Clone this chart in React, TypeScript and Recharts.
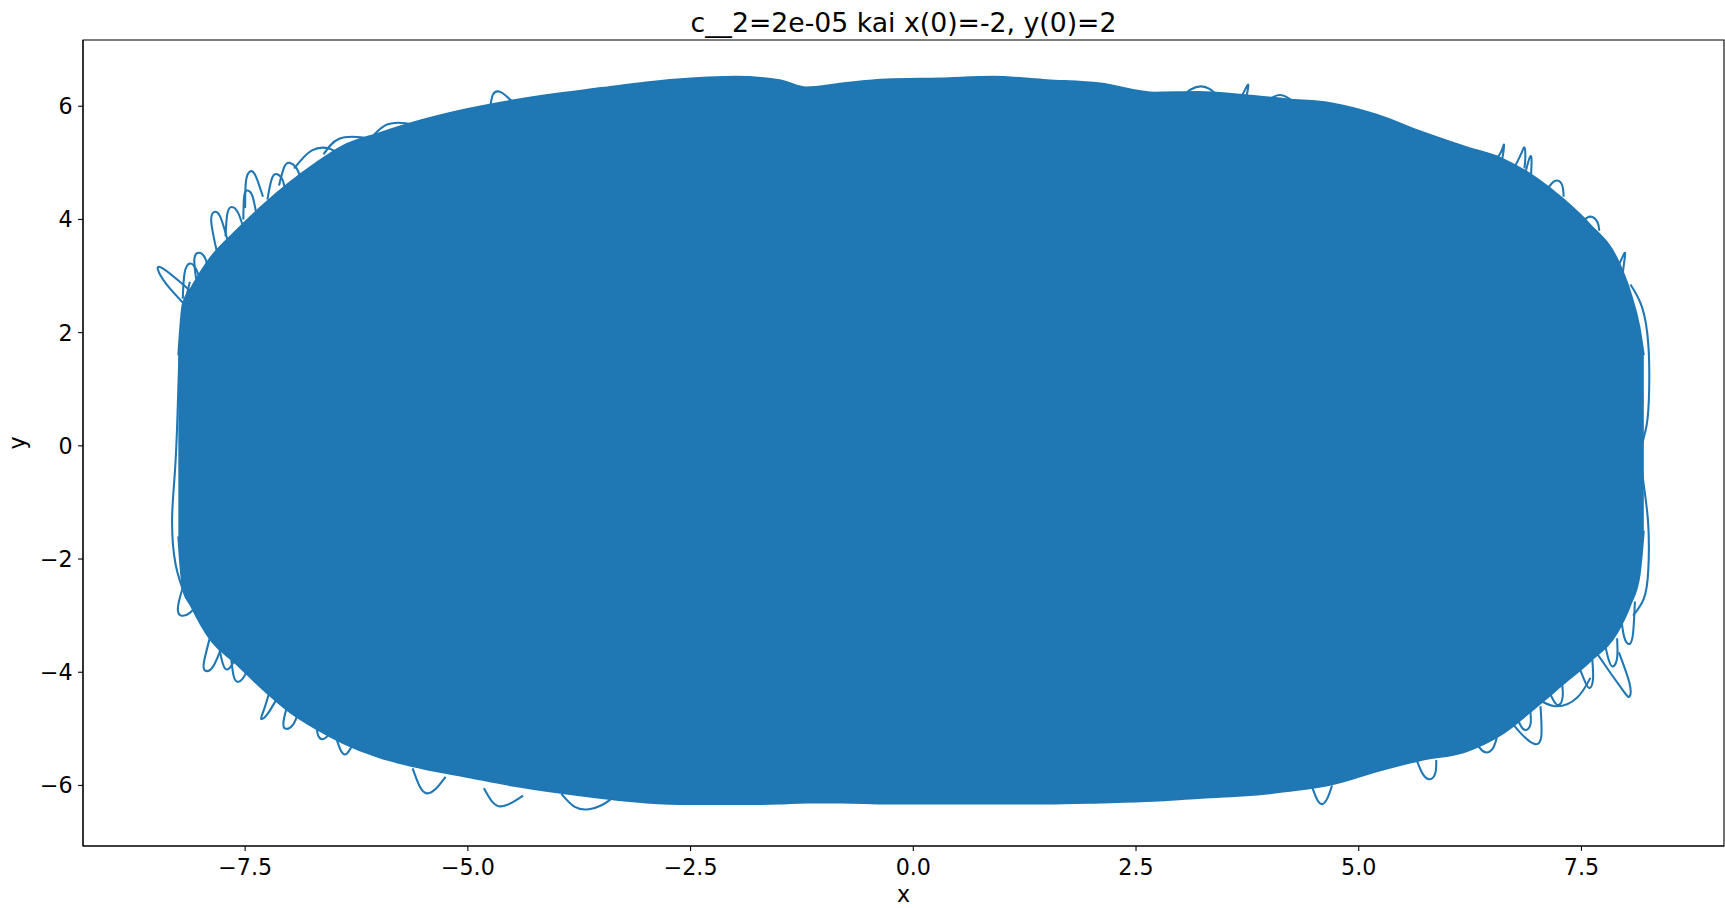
import React from 'react';
import { ComposedChart, Area, Line, XAxis, YAxis, ReferenceArea } from 'recharts';

const BLUE = '#1f77b4';
const TITLE = 'c__2=2e-05 kai x(0)=-2, y(0)=2';

// Axis ranges and ticks
const xDomain: [number, number] = [-9.32, 9.1];
const yDomain: [number, number] = [-7.07, 7.17];
const xTicks = [-7.5, -5, -2.5, 0, 2.5, 5, 7.5];
const yTicks = [-6, -4, -2, 0, 2, 4, 6];

// Outline of the densely covered core of the orbit: for each x, lowest and highest y
const envX = [
  -8.25, -8.2, -8.1, -7.9, -7.6, -7.3, -7.0, -6.7, -6.4, -6.0, -5.5, -5.0, -4.5, -4.0, -3.5,
  -3.0, -2.5, -2.0, -1.5, -1.2, -0.8, -0.3, 0.3, 0.9, 1.5, 2.1, 2.7, 3.2, 3.7, 4.2, 4.7, 5.2,
  5.7, 6.2, 6.6, 7.0, 7.3, 7.6, 7.9, 8.05, 8.15, 8.2,
];
const envLow = [
  -1.6, -2.5, -2.85, -3.4, -3.85, -4.3, -4.7, -5.0, -5.25, -5.5, -5.7, -5.85, -6.0, -6.12, -6.22,
  -6.3, -6.33, -6.33, -6.32, -6.3, -6.3, -6.32, -6.32, -6.32, -6.32, -6.3, -6.27, -6.22, -6.18, -6.1, -5.98, -5.75,
  -5.55, -5.4, -5.1, -4.6, -4.2, -3.8, -3.3, -2.8, -2.3, -1.5,
];
const envHigh = [
  1.6, 2.5, 2.8, 3.3, 3.8, 4.25, 4.65, 5.0, 5.3, 5.52, 5.76, 5.95, 6.1, 6.22, 6.32,
  6.42, 6.49, 6.52, 6.46, 6.33, 6.4, 6.47, 6.49, 6.52, 6.46, 6.4, 6.24, 6.25, 6.2, 6.12, 6.05, 5.85,
  5.55, 5.28, 5.08, 4.72, 4.35, 3.9, 3.3, 2.7, 2.1, 1.6,
];

type Pt = [number, number];

// Loops of the orbit reaching past the core, upper left
const loopsUpperLeft: Pt[][] = [
  [[-8.15, 2.45], [-8.38, 2.85], [-8.48, 3.12], [-8.42, 3.13], [-8.22, 2.88], [-8.05, 2.65]],
  [[-8.05, 2.95], [-8.07, 3.3], [-8.02, 3.41], [-7.95, 3.32], [-7.9, 3.05]],
  [[-8.2, 2.6], [-8.18, 3.05], [-8.12, 3.22], [-8.05, 3.12], [-8.0, 2.9]],
  [[-7.82, 3.45], [-7.88, 3.95], [-7.85, 4.13], [-7.78, 4.05], [-7.7, 3.65]],
  [[-7.72, 3.7], [-7.7, 4.1], [-7.65, 4.22], [-7.58, 4.12], [-7.52, 3.85]],
  [[-7.52, 4.0], [-7.51, 4.42], [-7.47, 4.51], [-7.42, 4.42], [-7.38, 4.15]],
  [[-7.5, 4.2], [-7.49, 4.68], [-7.44, 4.85], [-7.38, 4.76], [-7.3, 4.4]],
  [[-7.25, 4.35], [-7.2, 4.72], [-7.14, 4.8], [-7.08, 4.7], [-7.05, 4.5]],
  [[-7.12, 4.6], [-7.06, 4.93], [-7.0, 5.0], [-6.93, 4.92], [-6.88, 4.75]],
  [[-6.95, 4.9], [-6.75, 5.22], [-6.55, 5.25], [-6.45, 5.15]],
  [[-6.62, 5.15], [-6.45, 5.42], [-6.2, 5.45], [-6.05, 5.4]],
  [[-6.05, 5.5], [-5.9, 5.68], [-5.7, 5.7], [-5.55, 5.65]],
  [[-4.75, 5.95], [-4.72, 6.2], [-4.65, 6.26], [-4.57, 6.18], [-4.48, 6.05]],
];

// Upper right
const loopsUpperRight: Pt[][] = [
  [[3.02, 6.18], [3.12, 6.3], [3.23, 6.35], [3.33, 6.3], [3.4, 6.2]],
  [[3.66, 6.1], [3.72, 6.28], [3.76, 6.38], [3.75, 6.25], [3.73, 6.1]],
  [[3.95, 6.05], [4.05, 6.17], [4.15, 6.19], [4.25, 6.1]],
  [[6.52, 5.0], [6.6, 5.2], [6.63, 5.32], [6.62, 5.15], [6.6, 5.0]],
  [[6.74, 4.9], [6.82, 5.15], [6.86, 5.27], [6.87, 5.1], [6.86, 4.9]],
  [[6.86, 4.75], [6.9, 5.0], [6.93, 5.12], [6.94, 5.0], [6.93, 4.7]],
  [[7.1, 4.5], [7.2, 4.68], [7.28, 4.62], [7.3, 4.4]],
  [[7.5, 3.95], [7.6, 4.05], [7.68, 3.95], [7.7, 3.8]],
  [[7.88, 3.05], [7.95, 3.3], [7.99, 3.41], [7.98, 3.25], [7.96, 3.0]],
];

// Outermost swings on the left and right flanks
const flankLeft: Pt[] = [
  [-8.12, 2.9], [-8.2, 2.3], [-8.24, 1.5], [-8.26, 0.5], [-8.29, -0.5], [-8.32, -1.3], [-8.28, -2.1], [-8.16, -2.7],
];
const flankRight: Pt[] = [
  [8.05, 2.85], [8.18, 2.45], [8.25, 1.8], [8.26, 1.0], [8.23, 0.35], [8.17, -0.1], [8.2, -0.7], [8.25, -1.4],
  [8.25, -2.2], [8.2, -2.7], [8.08, -3.0],
];

// Lower right
const loopsLowerRight: Pt[][] = [
  [[8.1, -2.75], [8.08, -3.3], [8.04, -3.5], [7.98, -3.38], [7.94, -2.95]],
  [[7.6, -3.5], [7.82, -4.0], [7.98, -4.35], [8.04, -4.43], [8.04, -4.2], [7.92, -3.65]],
  [[7.75, -3.4], [7.8, -3.75], [7.85, -3.9], [7.9, -3.75], [7.9, -3.4]],
  [[7.42, -3.7], [7.53, -4.13], [7.59, -4.28], [7.63, -4.12], [7.62, -3.75]],
  [[7.05, -4.05], [7.17, -4.45], [7.24, -4.58], [7.29, -4.42], [7.27, -4.05]],
  [[6.95, -4.4], [7.2, -4.6], [7.45, -4.45], [7.6, -4.1]],
  [[6.6, -4.65], [6.82, -5.08], [6.98, -5.27], [7.05, -5.12], [7.04, -4.6]],
  [[6.75, -4.7], [6.82, -4.95], [6.88, -5.02], [6.93, -4.9], [6.92, -4.6]],
  [[6.3, -5.2], [6.4, -5.4], [6.5, -5.36], [6.55, -5.15]],
  [[5.65, -5.55], [5.72, -5.8], [5.8, -5.89], [5.86, -5.78], [5.87, -5.55]],
  [[4.47, -6.0], [4.53, -6.24], [4.59, -6.33], [4.65, -6.22], [4.7, -6.0]],
];

// Lower left
const loopsLowerLeft: Pt[][] = [
  [[-8.18, -2.4], [-8.25, -2.8], [-8.23, -2.99], [-8.12, -2.95], [-8.02, -2.75]],
  [[-7.88, -3.3], [-7.96, -3.8], [-7.95, -3.97], [-7.86, -3.9], [-7.75, -3.5]],
  [[-7.66, -3.7], [-7.63, -4.06], [-7.58, -4.17], [-7.51, -4.07], [-7.45, -3.85]],
  [[-7.8, -3.5], [-7.75, -3.85], [-7.7, -3.95], [-7.64, -3.85], [-7.6, -3.7]],
  [[-7.2, -4.2], [-7.28, -4.62], [-7.32, -4.82], [-7.25, -4.74], [-7.12, -4.4]],
  [[-7.02, -4.55], [-7.07, -4.88], [-7.04, -5.0], [-6.96, -4.92], [-6.9, -4.7]],
  [[-6.7, -4.9], [-6.68, -5.12], [-6.62, -5.18], [-6.56, -5.1], [-6.52, -5.0]],
  [[-6.48, -5.15], [-6.42, -5.4], [-6.36, -5.44], [-6.3, -5.3]],
  [[-5.62, -5.7], [-5.54, -6.02], [-5.46, -6.14], [-5.36, -6.06], [-5.25, -5.85]],
  [[-4.82, -6.05], [-4.73, -6.28], [-4.63, -6.37], [-4.5, -6.3], [-4.38, -6.18]],
  [[-3.95, -6.15], [-3.8, -6.38], [-3.64, -6.42], [-3.5, -6.35], [-3.4, -6.25]],
];

const FONT = 'DejaVu Sans, sans-serif';
const TICK_FS = 22.2;

const minus = (s: string) => s.replace('-', '\u2212');
const fmtX = (v: number) => minus(v.toFixed(1));
const fmtY = (v: number) => minus(String(v));

export default function App() {
  const core = envX.map((x, i) => ({ x, band: [envLow[i], envHigh[i]] }));
  const paths: Pt[][] = [
    ...loopsUpperLeft,
    ...loopsUpperRight,
    flankLeft,
    flankRight,
    ...loopsLowerRight,
    ...loopsLowerLeft,
  ];
  const pathData = paths.map((p) => p.map(([x, y]) => ({ x, y })));
  const tickStyle = { fontSize: TICK_FS, fill: '#000', fontFamily: FONT };

  return (
    <div style={{ position: 'absolute', left: 0, top: 0, width: 1725, height: 908, background: '#fff' }}>
      <ComposedChart width={1725} height={908} margin={{ top: 40, right: 1, bottom: 0, left: 0 }}>
        <XAxis
          type="number"
          dataKey="x"
          domain={xDomain}
          allowDataOverflow
          ticks={xTicks}
          interval={0}
          tickFormatter={fmtX}
          height={62}
          stroke="#000"
          strokeWidth={1.1}
          tickSize={4.9}
          tickMargin={8}
          tick={tickStyle}
          label={{ value: 'x', position: 'insideBottom', offset: 6, fontSize: TICK_FS, fill: '#000', fontFamily: FONT }}
        />
        <YAxis
          type="number"
          dataKey="y"
          domain={yDomain}
          allowDataOverflow
          ticks={yTicks}
          interval={0}
          tickFormatter={fmtY}
          width={83}
          stroke="#000"
          strokeWidth={1.1}
          tickSize={4.9}
          tickMargin={5.5}
          tick={tickStyle}
          label={{
            value: 'y',
            angle: -90,
            position: 'insideLeft',
            offset: 17.6,
            textAnchor: 'middle',
            fontSize: TICK_FS,
            fill: '#000',
            fontFamily: FONT,
          }}
        />
        <Area
          data={core}
          dataKey="band"
          type="monotone"
          stroke={BLUE}
          strokeWidth={2}
          fill={BLUE}
          fillOpacity={1}
          dot={false}
          activeDot={false}
          isAnimationActive={false}
        />
        {pathData.map((d, i) => (
          <Line
            key={i}
            data={d}
            dataKey="y"
            type="natural"
            stroke={BLUE}
            strokeWidth={2.08}
            dot={false}
            activeDot={false}
            isAnimationActive={false}
          />
        ))}
        <ReferenceArea
          x1={xDomain[0]}
          x2={xDomain[1]}
          y1={yDomain[0]}
          y2={yDomain[1]}
          fill="none"
          fillOpacity={0}
          stroke="#000"
          strokeWidth={1.1}
        />
      </ComposedChart>
      <svg
        width={1725}
        height={908}
        style={{ position: 'absolute', left: 0, top: 0, pointerEvents: 'none' }}
      >
        <text x={903.5} y={32} textAnchor="middle" fontSize={26.7} fontFamily={FONT} fill="#000">
          {TITLE}
        </text>
      </svg>
    </div>
  );
}
